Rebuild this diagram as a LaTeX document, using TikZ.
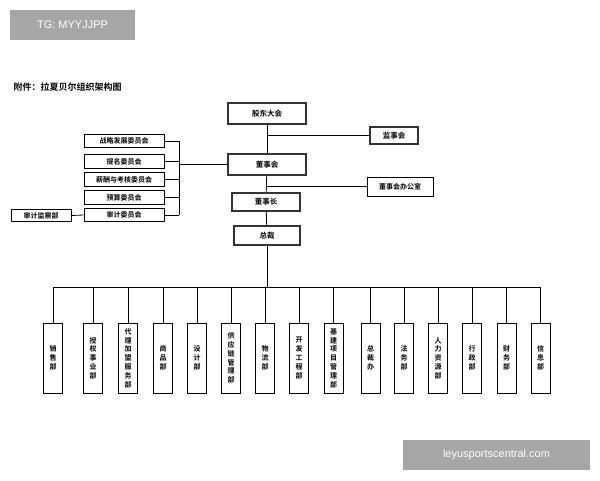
\documentclass[tikz,border=0pt]{standalone}
\usepackage{fontspec}
\newfontfamily\cjk{Noto Sans CJK SC Bold}
\begin{document}
\begin{tikzpicture}[x=1pt,y=-1pt,
  bx/.style={draw,line width=0.6pt,inner sep=0pt,font=\cjk\fontsize{7}{8}\selectfont},
  tb/.style={draw,line width=1.6pt,draw=black!80,inner sep=0pt,font=\cjk\fontsize{7.5}{8}\selectfont},
  vb/.style={draw,line width=0.6pt,inner sep=0pt,minimum width=19pt,minimum height=70pt,align=center,font=\cjk\fontsize{7}{8.8}\selectfont},
  ln/.style={line width=0.8pt}]
\useasboundingbox (0,0) rectangle (600,480);
\fill[white] (0,0) rectangle (600,480);
\node[fill=black!35,text=white,minimum width=125pt,minimum height=30pt,inner sep=0pt,font=\fontspec{Liberation Sans}\fontsize{11}{12}\selectfont] (wm1) at (72.5,25) {TG: MYYJJPP};
\node[fill=black!35,text=white,minimum width=187pt,minimum height=30pt,inner sep=0pt,font=\fontspec{Liberation Sans}\fontsize{11}{12}\selectfont] (wm2) at (496.5,455) {leyusportscentral.com};
\node[anchor=west,font=\cjk\fontsize{9}{10}\selectfont] (title) at (10,87) {附件：拉夏贝尔组织架构图};
% top chain
\node[tb,minimum width=78pt,minimum height=21pt] (gd) at (267,113.5) {股东大会};
\node[tb,minimum width=78pt,minimum height=21pt] (dsh) at (267,164.5) {董事会};
\node[tb,minimum width=68pt,minimum height=18pt] (dsz) at (266,202) {董事长};
\node[tb,minimum width=66pt,minimum height=19pt] (zc) at (267,235.5) {总裁};
\node[tb,minimum width=48pt,minimum height=17pt] (jsh) at (394,135.5) {监事会};
\node[bx,minimum width=66pt,minimum height=19pt,line width=0.9pt] (bgs) at (400,186.5) {董事会办公室};
\draw[ln] (gd) -- (dsh);
\draw[ln] (dsh) -- (dsz);
\draw[ln] (dsz) -- (zc);
\coordinate (j1) at (267,135.5);
\coordinate (j2) at (267,186.5);
\draw[ln] (j1) -- (jsh.west);
\draw[ln] (j2) -- (bgs.west);
% committees
\foreach \n/\t/\y in {c1/战略发展委员会/141, c2/提名委员会/161.5, c3/薪酬与考核委员会/179.5, c4/预算委员会/197.5, c5/审计委员会/215}{
  \node[bx,minimum width=80pt,minimum height=13.5pt,line width=0.8pt] (\n) at (124,\y) {\t};
  \draw[ln] (\n.east) -- (179,\y);
}
\draw[ln] (179,141) -- (179,215);
\coordinate (br) at (179,164.5);
\draw[ln] (br) -- (dsh.west);
\node[bx,minimum width=60pt,minimum height=11.5pt,line width=0.8pt] (sj) at (41,215.5) {审计监察部};
\draw[ln] (sj.east) -- (c5.west);
% departments
\coordinate (bus) at (267,287);
\draw[ln] (zc) -- (bus);
\draw[ln] (53,287) -- (540.5,287);
\foreach \n/\t/\x in {d1/销\\售\\部/53, d2/授\\权\\事\\业\\部/93, d3/代\\理\\加\\盟\\服\\务\\部/128, d4/商\\品\\部/163, d5/设\\计\\部/197, d6/供\\应\\链\\管\\理\\部/231, d7/物\\流\\部/265, d8/开\\发\\工\\程\\部/299, d9/基\\建\\项\\目\\管\\理\\部/333.5, d10/总\\裁\\办/370.5, d11/法\\务\\部/404, d12/人\\力\\资\\源\\部/438, d13/行\\政\\部/472, d14/财\\务\\部/506.5, d15/信\\息\\部/540.5}{
  \node[vb] (\n) at (\x,358) {\t};
  \draw[ln] (\n.north) -- ++(0,-36);
}
\end{tikzpicture}
\end{document}
